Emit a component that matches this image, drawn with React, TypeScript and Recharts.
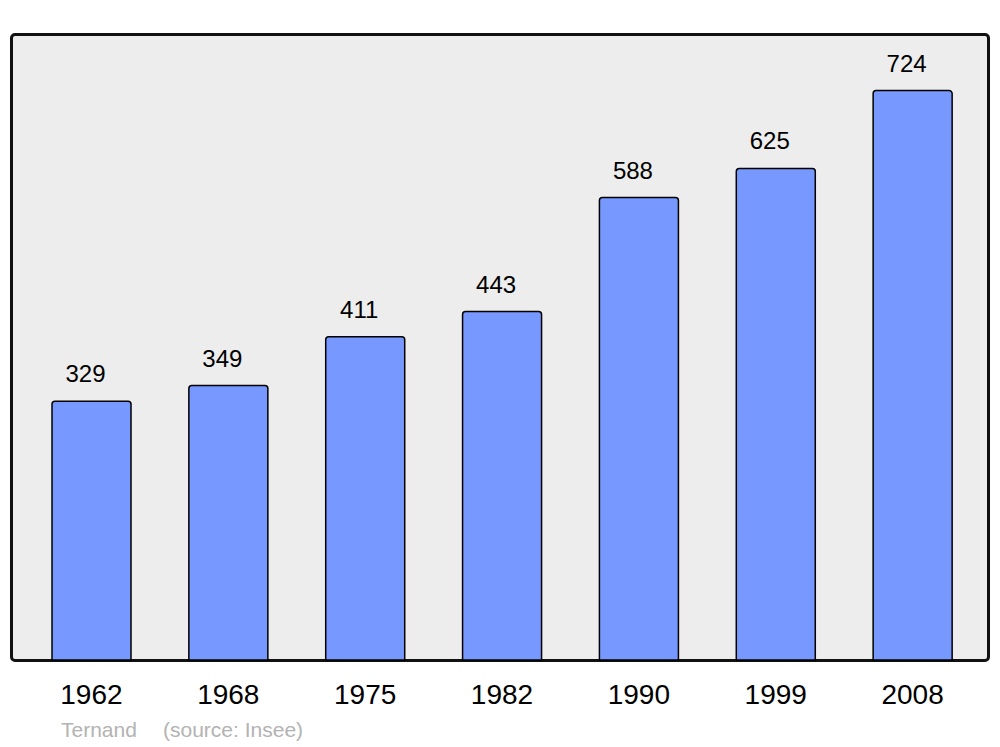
import React from "react";
import { BarChart, Bar, XAxis, YAxis, LabelList } from "recharts";

const years = ["1962", "1968", "1975", "1982", "1990", "1999", "2008"];
const population = [329, 349, 411, 443, 588, 625, 724];
const data = years.map((y, i) => ({ year: y, pop: population[i] }));

const FONT = "'Liberation Sans', Arial, sans-serif";

export default function App() {
  return (
    <div style={{ position: "absolute", left: 0, top: 0, width: 1000, height: 747, background: "#fff", fontFamily: FONT }}>
      <div
        style={{
          position: "absolute",
          left: 10,
          top: 32.5,
          width: 980,
          height: 629,
          boxSizing: "border-box",
          border: "3px solid #111",
          borderRadius: 5,
          background: "#ededed",
        }}
      />
      <div style={{ position: "absolute", left: 0, top: 0 }}>
        <BarChart
          width={1000}
          height={747}
          data={data}
          margin={{ top: 34, right: 11, bottom: 86, left: 11 }}
          barCategoryGap={0}
        >
          <YAxis hide domain={[0, 796]} type="number" />
          <XAxis
            dataKey="year"
            axisLine={false}
            tickLine={false}
            tickSize={0}
            tickMargin={24}
            height={1}
            padding={{ left: 12, right: 8 }}
            tick={{ fontSize: 28, fill: "#000", fontFamily: FONT }}
            interval={0}
          />
          <Bar
            dataKey="pop"
            fill="#7799ff"
            stroke="#000"
            strokeWidth={1.5}
            barSize={79}
            radius={[3, 3, 0, 0]}
            isAnimationActive={false}
          >
            <LabelList
              dataKey="pop"
              position="top"
              offset={19}
              dx={-6}
              style={{ fontSize: 24, fill: "#000", fontFamily: FONT }}
            />
          </Bar>
        </BarChart>
      </div>
      <div style={{ position: "absolute", left: 61, top: 717, fontSize: 21, color: "#b3b3b3", lineHeight: "26px", whiteSpace: "pre" }}>
        Ternand
      </div>
      <div style={{ position: "absolute", left: 163, top: 717, fontSize: 21, color: "#b3b3b3", lineHeight: "26px", whiteSpace: "pre" }}>
        (source: Insee)
      </div>
    </div>
  );
}
